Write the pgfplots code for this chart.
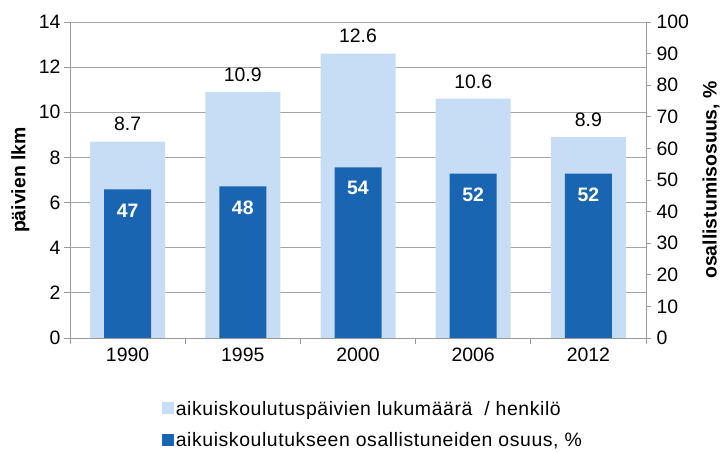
\documentclass[border=0pt]{standalone}
\usepackage{fontspec}
\setmainfont{Liberation Sans}
\newfontfamily\legfont[LetterSpace=3]{Liberation Sans}
\usepackage{pgfplots}
\pgfplotsset{compat=1.18}
\definecolor{lightb}{HTML}{C6DDF5}
\definecolor{darkb}{HTML}{1A65B1}
\definecolor{gridc}{HTML}{A6A6A6}
\definecolor{axc}{HTML}{9A9A9A}
\pgfplotsset{/pgf/number format/assume math mode=true}
\newcommand\fs{\fontsize{19.5}{23}\selectfont}
\begin{document}
\begin{tikzpicture}
\useasboundingbox (0bp,0bp) rectangle (728bp,452bp);
\begin{axis}[
  at={(70bp,114bp)}, anchor=south west,
  scale only axis, width=576bp, height=316bp,
  xmin=-0.5, xmax=4.5, ymin=0, ymax=14,
  ytick={0,2,...,14},
  xtick={-0.5,0.5,...,4.5},
  x tick label as interval,
  xticklabels={1990,1995,2000,2006,2012},
  axis x line*=bottom, axis y line*=left,
  axis line style={draw=axc, line width=0.8bp},
  tick style={draw=axc, line width=0.8bp},
  tick align=outside, major tick length=6bp,
  ymajorgrids, grid style={draw=gridc, line width=0.8bp},
  tick label style={font=\fs, text=black},
  ylabel={päivien lkm},
  ylabel style={font=\bfseries\fs, at={(axis description cs:-0.086,0.5)}, anchor=center, rotate=0},
  ybar, bar width=0.651, bar shift=0pt,
  nodes near coords,
  nodes near coords style={font=\fs, anchor=south, yshift=7bp},
  clip=false,
]
\addplot[fill=lightb, draw=none] coordinates {(0,8.7) (1,10.9) (2,12.6) (3,10.6) (4,8.9)};
\end{axis}
\begin{axis}[
  at={(70bp,114bp)}, anchor=south west,
  scale only axis, width=576bp, height=316bp,
  xmin=-0.5, xmax=4.5, ymin=0, ymax=100,
  ytick={0,10,...,100},
  axis x line=none, axis y line*=right,
  axis line style={draw=axc, line width=0.8bp},
  tick style={draw=axc, line width=0.8bp},
  tick align=outside, major tick length=5bp,
  tick label style={font=\fs, text=black, xshift=2bp},
  ylabel={osallistumisosuus, \%},
  ylabel style={font=\bfseries\fs, at={(axis description cs:1.113,0.5)}, anchor=center, rotate=0},
  ybar, bar width=0.408, bar shift=0pt,
  nodes near coords,
  nodes near coords style={font=\bfseries\fs, text=white, anchor=center, yshift=-21bp},
  clip=false,
  legend style={at={(axis description cs:0.16,-0.195)}, anchor=north west, draw=none, fill=none,
    font=\legfont\fs, row sep=13bp, inner sep=0pt,
    nodes={inner sep=1.5bp}},
  legend cell align=left,
  legend image code/.code={\fill[#1] (0bp,-5bp) rectangle (12bp,7bp);},
]
\addlegendimage{fill=lightb, draw=none}
\addlegendentry{aikuiskoulutuspäivien lukumäärä~ / henkilö}
\addplot[fill=darkb, draw=none] coordinates {(0,47) (1,48) (2,54) (3,52) (4,52)};
\addlegendentry{aikuiskoulutukseen osallistuneiden osuus, \%}
\end{axis}
\end{tikzpicture}
\end{document}
